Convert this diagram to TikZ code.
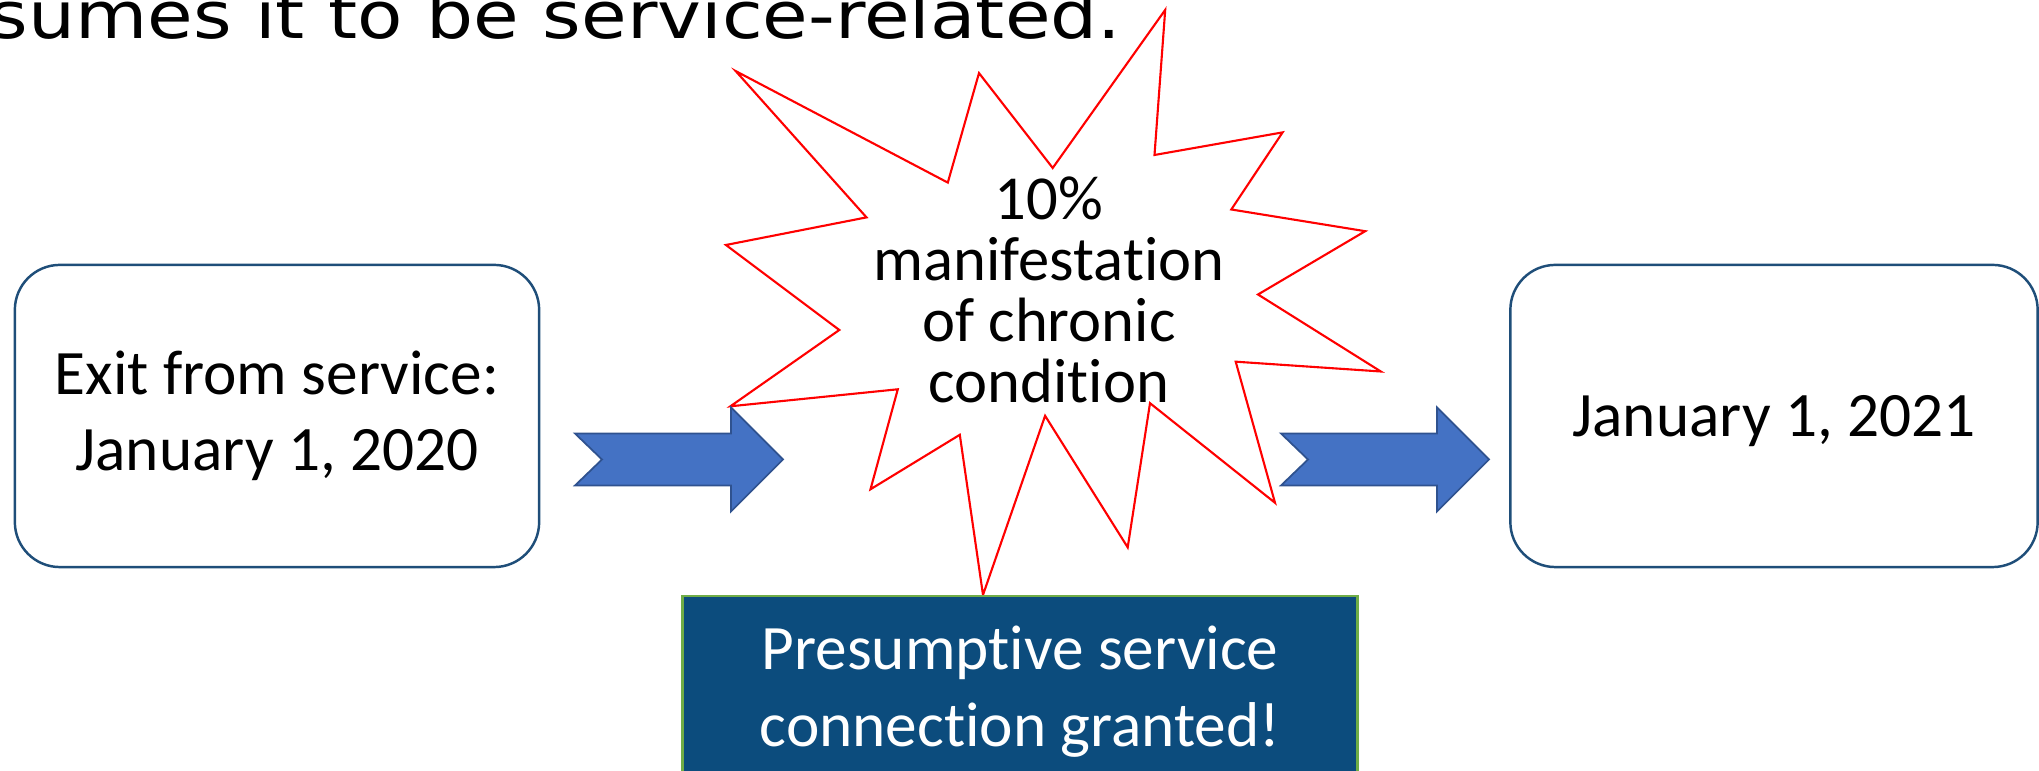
\documentclass[tikz,border=0pt]{standalone}
\usepackage{fontspec}
\setmainfont{Carlito}[Ligatures=NoCommon]
\newfontfamily\headfont{DejaVu Sans}[FakeStretch=1.14]
\usepackage{xcolor}

\definecolor{boxline}{RGB}{31,78,121}
\definecolor{arrowfill}{RGB}{68,114,196}
\definecolor{arrowline}{RGB}{47,82,143}
\definecolor{bannerfill}{RGB}{12,76,125}
\definecolor{bannerline}{RGB}{112,173,71}

\tikzset{
  datebox/.style={draw=boxline, line width=0.7pt, rounded corners=0.45cm,
    minimum width=5.24cm, minimum height=3.02cm, align=center, inner sep=0pt,
    font=\fontsize{18}{21.8}\selectfont},
  banner/.style={fill=bannerfill, draw=bannerline, line width=0.8pt, text=white,
    minimum width=6.74cm, minimum height=1.92cm, align=center, inner sep=0pt,
    font=\fontsize{18}{21.8}\selectfont},
  burstline/.style={draw=red, line width=0.6pt, fill=white, line join=miter},
  notched/.pic={
    \draw[fill=arrowfill, draw=arrowline, line width=0.5pt]
      (0,-26) -- (156,-26) -- (156,-52) -- (208,0) -- (156,52) -- (156,26)
      -- (0,26) -- (27,0) -- cycle;
  }
}

\begin{document}
\begin{tikzpicture}[x=0.01cm, y=-0.01cm]
\useasboundingbox (0,0) rectangle (2039,771);

\node[anchor=base east, inner sep=0pt, font=\headfont\fontsize{18.5}{22}\selectfont]
  (claim) at (1122,39) {sumes it to be service-related.};

\draw[burstline] (735.7,71.1) -- (947.8,182.6) -- (979.0,73.1) -- (1052.7,168.0)
  -- (1165.2,9.9) -- (1154.5,155.0) -- (1282.6,132.4) -- (1231.3,209.5)
  -- (1365.2,231.2) -- (1258.0,294.5) -- (1380.8,371.5) -- (1235.7,361.7)
  -- (1275.0,502.8) -- (1150.0,403.2) -- (1127.7,547.4) -- (1045.1,415.8)
  -- (983.0,594.9) -- (959.8,434.8) -- (870.5,489.3) -- (897.8,389.3)
  -- (730.4,406.3) -- (839.3,330.0) -- (725.9,245.0) -- (866.5,217.4) -- cycle;
\node[anchor=base, inner sep=0pt, align=center, font=\fontsize{17.8}{17.4}\selectfont]
  (burst) at (1049,403) {10\%\\manifestation\\of chronic\\condition};

\node[datebox] (exit) at (277,416) {Exit from service:\\January 1, 2020};
\node[datebox, minimum width=5.27cm, text depth=0pt] (later) at (1774,416) {January 1, 2021};

\coordinate (arrL) at (575,459.5);
\coordinate (arrR) at (1281,459.5);
\pic at (arrL) {notched};
\pic at (arrR) {notched};

\node[banner] (granted) at (1020,692) {Presumptive service\\connection granted!};
\end{tikzpicture}
\end{document}
